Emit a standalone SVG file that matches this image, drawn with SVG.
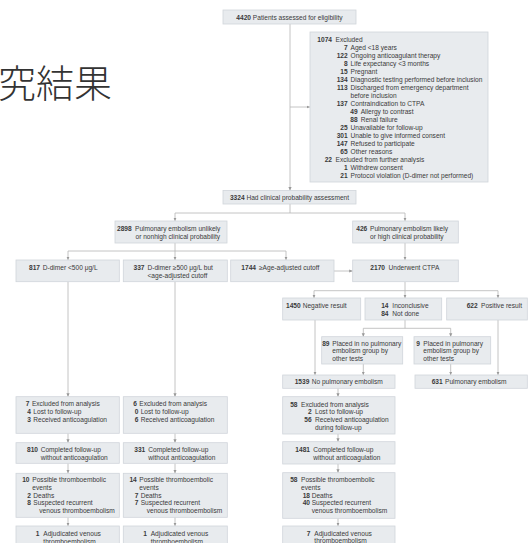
<svg xmlns="http://www.w3.org/2000/svg" width="530" height="543" viewBox="0 0 530 543">
<style>
.bx{fill:#e8ebee;stroke:#d0d5da;stroke-width:.8}
text{font-family:"Liberation Sans",Arial,sans-serif;font-size:6.6px;fill:#3a3a3a}
.n{font-weight:bold;text-anchor:end}
.m{text-anchor:middle}
.c path{fill:none;stroke:#b5b5b5;stroke-width:.8}
.a{marker-end:url(#ah)}
.cjk{font-family:"Noto Sans CJK JP","Noto Sans CJK TC",sans-serif;font-size:38px;font-weight:300;fill:#333}
</style>
<defs>
<marker id="ah" markerWidth="4" markerHeight="4" refX="3.5" refY="2" orient="auto" markerUnits="userSpaceOnUse"><path d="M0,0.4 L3.5,2 L0,3.6z" fill="#999"/></marker>
</defs>
<rect width="530" height="543" fill="#fff"/>
<text class="cjk" x="-2" y="97">究結果</text>

<g class="c" id="connectors">
<path class="a" d="M290,24 V190.5"/>
<path class="a" d="M290,107 H310"/>
<path d="M290,204 V213 M175,213 H405"/>
<path class="a" d="M175,213 V221"/>
<path class="a" d="M405,213 V221"/>
<path d="M175,243 V251 M68,251 H286"/>
<path class="a" d="M68,251 V260"/>
<path class="a" d="M175,251 V260"/>
<path class="a" d="M286,251 V260"/>
<path class="a" d="M334,271 H352.7"/>
<path class="a" d="M405,243 V260"/>
<path d="M405,282 V290.7 M314,290.7 H498"/>
<path class="a" d="M314,290.7 V298"/>
<path class="a" d="M405,290.7 V298"/>
<path class="a" d="M498,290.7 V298"/>
<path d="M405,320 V328.3 M363.3,328.3 H450.7"/>
<path class="a" d="M363.3,328.3 V336.7"/>
<path class="a" d="M450.7,328.3 V336.7"/>
<path class="a" d="M315,320 V375"/>
<path class="a" d="M363.3,364 V375"/>
<path class="a" d="M450.7,364 V375"/>
<path class="a" d="M498,320 V375"/>
<path class="a" d="M338,388.3 V396.7"/>
<path class="a" d="M338,434 V441.7"/>
<path class="a" d="M338,464 V472.7"/>
<path class="a" d="M338,518.3 V526"/>
<path class="a" d="M68,281.7 V396.7"/>
<path class="a" d="M68,433.3 V442.7"/>
<path class="a" d="M68,463.3 V473.3"/>
<path class="a" d="M68,517.3 V526"/>
<path class="a" d="M175,281.7 V396.7"/>
<path class="a" d="M175,433.3 V442.7"/>
<path class="a" d="M175,463.3 V473.3"/>
<path class="a" d="M175,517.3 V526"/>
</g>

<g id="n4420">
<rect class="bx" x="223" y="10" width="133" height="14"/>
<text class="m" x="289.5" y="19.5"><tspan font-weight="bold">4420</tspan> Patients assessed for eligibility</text>
</g>

<g id="n1074">
<rect class="bx" x="310" y="32" width="178" height="150"/>
<text class="n" x="332" y="41.7">1074</text><text x="335.5" y="41.7">Excluded</text>
<text class="n" x="347.7" y="49.7">7</text><text x="350.5" y="49.7">Aged &lt;18 years</text>
<text class="n" x="347.7" y="57.7">122</text><text x="350.5" y="57.7">Ongoing anticoagulant therapy</text>
<text class="n" x="347.7" y="65.7">8</text><text x="350.5" y="65.7">Life expectancy &lt;3 months</text>
<text class="n" x="347.7" y="73.7">15</text><text x="350.5" y="73.7">Pregnant</text>
<text class="n" x="347.7" y="81.7">134</text><text x="350.5" y="81.7">Diagnostic testing performed before inclusion</text>
<text class="n" x="347.7" y="89.7">113</text><text x="350.5" y="89.7">Discharged from emergency department</text>
<text x="350.5" y="97.7">before inclusion</text>
<text class="n" x="347.7" y="105.7">137</text><text x="350.5" y="105.7">Contraindication to CTPA</text>
<text class="n" x="357.7" y="113.7">49</text><text x="360.7" y="113.7">Allergy to contrast</text>
<text class="n" x="357.7" y="121.7">88</text><text x="360.7" y="121.7">Renal failure</text>
<text class="n" x="347.7" y="129.7">25</text><text x="350.5" y="129.7">Unavailable for follow-up</text>
<text class="n" x="347.7" y="137.7">301</text><text x="350.5" y="137.7">Unable to give informed consent</text>
<text class="n" x="347.7" y="145.7">147</text><text x="350.5" y="145.7">Refused to participate</text>
<text class="n" x="347.7" y="153.7">65</text><text x="350.5" y="153.7">Other reasons</text>
<text class="n" x="332" y="161.7">22</text><text x="335.5" y="161.7">Excluded from further analysis</text>
<text class="n" x="347.7" y="169.7">1</text><text x="350.5" y="169.7">Withdrew consent</text>
<text class="n" x="347.7" y="177.7">21</text><text x="350.5" y="177.7">Protocol violation (D-dimer not performed)</text>
</g>

<g id="n3324">
<rect class="bx" x="223" y="190.5" width="133" height="13.5"/>
<text class="m" x="289.5" y="199.8"><tspan font-weight="bold">3324</tspan> Had clinical probability assessment</text>
</g>

<g id="n2898">
<rect class="bx" x="115" y="221" width="112" height="22"/>
<text class="n" x="131.7" y="231">2898</text><text x="135" y="231">Pulmonary embolism unlikely</text>
<text x="135.5" y="238.6">or nonhigh clinical probability</text>
</g>

<g id="n426">
<rect class="bx" x="352.7" y="221" width="105.6" height="22"/>
<text class="n" x="367.3" y="231">426</text><text x="370" y="231">Pulmonary embolism likely</text>
<text x="370" y="238.6">or high clinical probability</text>
</g>

<g id="n817">
<rect class="bx" x="16" y="260" width="103.3" height="21.7"/>
<text class="n" x="40" y="269.9">817</text><text x="42.7" y="269.9">D-dimer &lt;500 μg/L</text>
</g>

<g id="n337">
<rect class="bx" x="123.3" y="260" width="104" height="21.7"/>
<text class="n" x="144.5" y="270">337</text><text x="147.5" y="270">D-dimer ≥500 μg/L but</text>
<text x="147.5" y="277.6">&lt;age-adjusted cutoff</text>
</g>

<g id="n1744">
<rect class="bx" x="230.7" y="260" width="103.3" height="21.7"/>
<text class="n" x="256" y="269.9">1744</text><text x="259" y="269.9">≥Age-adjusted cutoff</text>
</g>

<g id="n2170">
<rect class="bx" x="352.7" y="260" width="105.6" height="21.7"/>
<text class="n" x="385" y="269.6">2170</text><text x="388.5" y="269.6">Underwent CTPA</text>
</g>

<g id="n1450">
<rect class="bx" x="282.7" y="298" width="78" height="22"/>
<text class="n" x="300.7" y="308.1">1450</text><text x="302.7" y="308.1">Negative result</text>
</g>

<g id="n14">
<rect class="bx" x="365" y="298" width="76.7" height="22"/>
<text class="n" x="388.5" y="308.1">14</text><text x="392.3" y="308.1">Inconclusive</text>
<text class="n" x="388.5" y="315.7">84</text><text x="392.3" y="315.7">Not done</text>
</g>

<g id="n622">
<rect class="bx" x="446.7" y="298" width="80.6" height="22"/>
<text class="n" x="477.7" y="308.1">622</text><text x="481" y="308.1">Positive result</text>
</g>

<g id="n89">
<rect class="bx" x="321.7" y="336.7" width="81" height="27.3"/>
<text class="n" x="329.5" y="345.7">89</text><text x="332.3" y="345.7">Placed in no pulmonary</text>
<text x="332.3" y="353.4">embolism group by</text>
<text x="332.3" y="360.9">other tests</text>
</g>

<g id="n9">
<rect class="bx" x="414" y="336.7" width="76.7" height="27.3"/>
<text class="n" x="420" y="345.7">9</text><text x="423.3" y="345.7">Placed in pulmonary</text>
<text x="423.3" y="353.4">embolism group by</text>
<text x="423.3" y="360.9">other tests</text>
</g>

<g id="n1539">
<rect class="bx" x="282.7" y="375" width="112.3" height="13.3"/>
<text class="n" x="309.3" y="384">1539</text><text x="311.7" y="384">No pulmonary embolism</text>
</g>

<g id="n631">
<rect class="bx" x="415" y="375" width="112.3" height="13.3"/>
<text class="n" x="442.7" y="384">631</text><text x="445" y="384">Pulmonary embolism</text>
</g>

<g id="n7ex">
<rect class="bx" x="16" y="396.7" width="103.3" height="36.6"/>
<text class="n" x="29.5" y="406.4">7</text><text x="31.9" y="406.4">Excluded from analysis</text>
<text class="n" x="31" y="414.1">4</text><text x="33.3" y="414.1">Lost to follow-up</text>
<text class="n" x="31" y="422.1">3</text><text x="33.3" y="422.1">Received anticoagulation</text>
</g>

<g id="n6ex">
<rect class="bx" x="123.3" y="396.7" width="104" height="36.6"/>
<text class="n" x="136.8" y="406.4">6</text><text x="139.3" y="406.4">Excluded from analysis</text>
<text class="n" x="138.5" y="414.1">0</text><text x="140.7" y="414.1">Lost to follow-up</text>
<text class="n" x="138.5" y="422.1">6</text><text x="140.7" y="422.1">Received anticoagulation</text>
</g>

<g id="n58ex">
<rect class="bx" x="282.7" y="396.7" width="112.3" height="37.3"/>
<text class="n" x="297.5" y="406.7">58</text><text x="301" y="406.7">Excluded from analysis</text>
<text class="n" x="311.7" y="414.4">2</text><text x="315" y="414.4">Lost to follow-up</text>
<text class="n" x="311.7" y="422.4">56</text><text x="315" y="422.4">Received anticoagulation</text>
<text x="315" y="429.9">during follow-up</text>
</g>

<g id="n810">
<rect class="bx" x="16" y="442.7" width="103.3" height="20.6"/>
<text class="n" x="38" y="452.4">810</text><text x="40.7" y="452.4">Completed follow-up</text>
<text x="40.7" y="460.1">without anticoagulation</text>
</g>

<g id="n331">
<rect class="bx" x="123.3" y="442.7" width="104" height="20.6"/>
<text class="n" x="145.3" y="452.4">331</text><text x="148.3" y="452.4">Completed follow-up</text>
<text x="148.3" y="460.1">without anticoagulation</text>
</g>

<g id="n1481">
<rect class="bx" x="282.7" y="441.7" width="112.3" height="22.3"/>
<text class="n" x="310" y="452.4">1481</text><text x="313.3" y="452.4">Completed follow-up</text>
<text x="313.3" y="459.8">without anticoagulation</text>
</g>

<g id="n10pos">
<rect class="bx" x="16" y="473.3" width="103.3" height="44"/>
<text class="n" x="29.5" y="481.7">10</text><text x="32.3" y="481.7">Possible thromboembolic</text>
<text x="32.3" y="489.7">events</text>
<text class="n" x="31" y="497.7">2</text><text x="33.3" y="497.7">Deaths</text>
<text class="n" x="31" y="505.4">8</text><text x="33.3" y="505.4">Suspected recurrent</text>
<text x="39.3" y="513.1">venous thromboembolism</text>
</g>

<g id="n14pos">
<rect class="bx" x="123.3" y="473.3" width="104" height="44"/>
<text class="n" x="136.8" y="481.7">14</text><text x="139.3" y="481.7">Possible thromboembolic</text>
<text x="139.3" y="489.7">events</text>
<text class="n" x="138.5" y="497.7">7</text><text x="140.7" y="497.7">Deaths</text>
<text class="n" x="138.5" y="505.4">7</text><text x="140.7" y="505.4">Suspected recurrent</text>
<text x="146.7" y="513.1">venous thromboembolism</text>
</g>

<g id="n58pos">
<rect class="bx" x="282.7" y="472.7" width="112.3" height="45.6"/>
<text class="n" x="297.5" y="482.4">58</text><text x="301" y="482.4">Possible thromboembolic</text>
<text x="301" y="490.1">events</text>
<text class="n" x="310" y="497.7">18</text><text x="311.7" y="497.7">Deaths</text>
<text class="n" x="310" y="505.4">40</text><text x="311.7" y="505.4">Suspected recurrent</text>
<text x="311.7" y="513.1">venous thromboembolism</text>
</g>

<g id="n1adj">
<rect class="bx" x="16" y="526" width="103.3" height="24"/>
<text class="n" x="39.5" y="536.4">1</text><text x="43.3" y="536.4">Adjudicated venous</text>
<text x="43.3" y="544">thromboembolism</text>
</g>

<g id="n1adj2">
<rect class="bx" x="123.3" y="526" width="104" height="24"/>
<text class="n" x="147" y="536.4">1</text><text x="150.7" y="536.4">Adjudicated venous</text>
<text x="150.7" y="544">thromboembolism</text>
</g>

<g id="n7adj">
<rect class="bx" x="282.7" y="526" width="112.3" height="24"/>
<text class="n" x="310.5" y="535.7">7</text><text x="314.3" y="535.7">Adjudicated venous</text>
<text x="314.3" y="543.4">thromboembolism</text>
</g>
</svg>
